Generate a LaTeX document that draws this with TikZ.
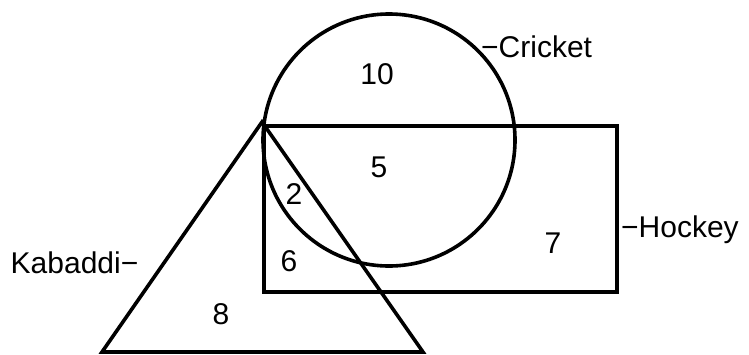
\documentclass[tikz,border=0pt]{standalone}
\usepackage{fontspec}
\setmainfont{Liberation Sans}
\begin{document}
\begin{tikzpicture}[x=1pt,y=-1pt,
  shapeline/.style={draw=black,line width=3.6pt,line join=miter},
  num/.style={inner sep=0pt,font=\fontsize{30}{30}\selectfont},
  setlabel/.style={inner sep=0pt,font=\fontsize{30}{30}\selectfont}]
\useasboundingbox (0,0) rectangle (749,354);
% sets
\coordinate (apex) at (262,122);
\coordinate (bl) at (102,352);
\coordinate (br) at (423,352);
\coordinate (cc) at (389,140);
\node[shapeline,circle,minimum size=252pt,inner sep=0pt] (cricket) at (cc) {};
\node[shapeline,rectangle,minimum width=353pt,minimum height=166pt,inner sep=0pt,anchor=north west] (hockey) at (262,124) {};
\draw[shapeline] (apex) -- (bl) -- (br) -- cycle;
% region numbers
\node[num] (n10) at (377,74) {10};
\node[num] (n5) at (379,167) {5};
\node[num] (n2) at (294,194) {2};
\node[num] (n6) at (289,261) {6};
\node[num] (n7) at (553,243) {7};
\node[num] (n8) at (221,314) {8};
% set labels
\node[setlabel,anchor=base west] (lcricket) at (481,57) {−Cricket};
\node[setlabel,anchor=base west] (lhockey) at (621,237) {−Hockey};
\node[setlabel,anchor=base west] (lkabaddi) at (10.5,273) {Kabaddi−};
\end{tikzpicture}
\end{document}
